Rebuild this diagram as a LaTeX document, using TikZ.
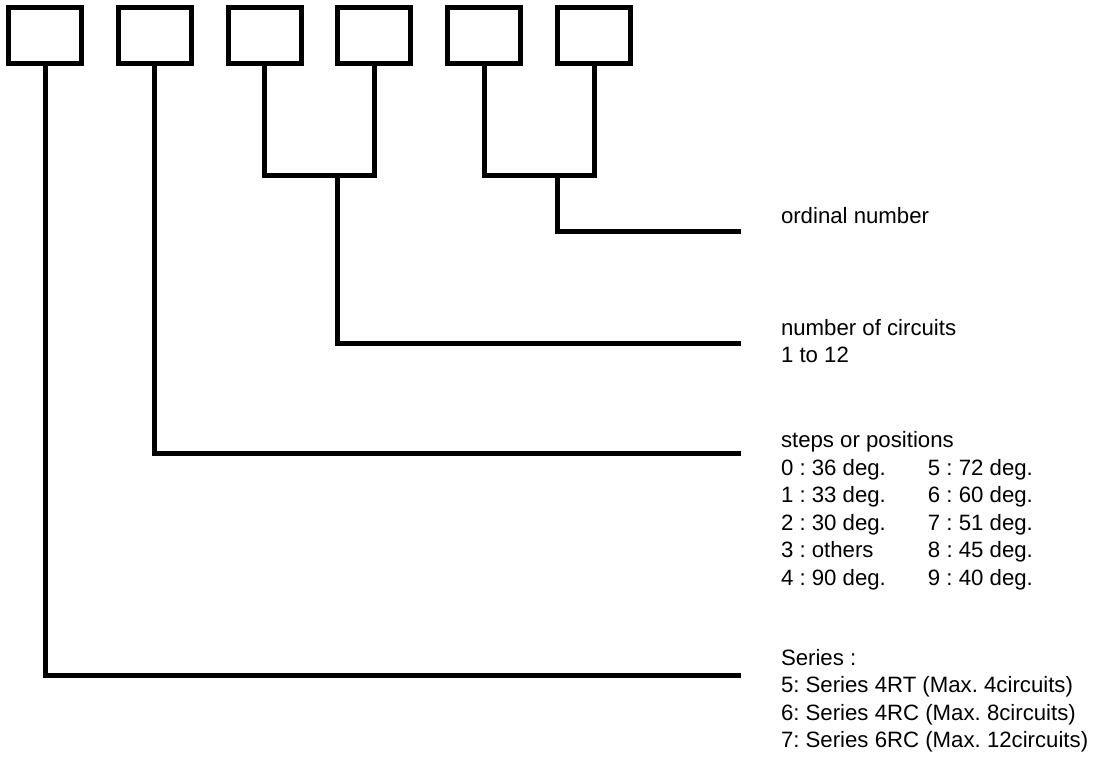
\documentclass[tikz,border=0pt]{standalone}
\usepackage{fontspec}
\setmainfont{Liberation Sans}
\frenchspacing
\begin{document}
\begin{tikzpicture}[x=1pt,y=-1pt,
  digit/.style={draw,line width=5pt,minimum width=73pt,minimum height=56pt,inner sep=0pt,outer sep=0pt},
  lead/.style={line width=5pt},
  label/.style={anchor=base west,inner sep=0pt,outer sep=0pt,font=\frenchspacing\fontsize{22.2}{27.6}\selectfont}]
\useasboundingbox (0,0) rectangle (1094,756);
\node[digit] (b1) at (45,35.5) {};
\node[digit] (b2) at (154.8,35.5) {};
\node[digit] (b3) at (264.6,35.5) {};
\node[digit] (b4) at (374.4,35.5) {};
\node[digit] (b5) at (484.2,35.5) {};
\node[digit] (b6) at (594,35.5) {};
\coordinate (c34) at (319,175.5);
\coordinate (d34) at (337.5,175.5);
\coordinate (c56) at (539,175.5);
\coordinate (d56) at (557.5,175.5);
\coordinate (e6) at (741,231);
\coordinate (e4) at (741,343);
\coordinate (e2) at (741,453.5);
\coordinate (e1) at (741,675);
\draw[lead] (b3.south) |- (c34) -| (b4.south);
\draw[lead] (b5.south) |- (c56) -| (b6.south);
\draw[lead] (d56) |- (e6);
\draw[lead] (d34) |- (e4);
\draw[lead] (b2.south) |- (e2);
\draw[lead] (b1.south) |- (e1);
\node[label] (t1) at (781,223) {ordinal number};
\node[label] (t2) at (781,335) {\begin{tabular}[t]{@{}l@{}}number of circuits\\1 to 12\end{tabular}};
\node[label] (t3) at (781,447.5) {\begin{tabular}[t]{@{}l@{}}steps or positions\\
\makebox[147pt][l]{0 : 36 deg.}5 : 72 deg.\\
\makebox[147pt][l]{1 : 33 deg.}6 : 60 deg.\\
\makebox[147pt][l]{2 : 30 deg.}7 : 51 deg.\\
\makebox[147pt][l]{3 : others}8 : 45 deg.\\
\makebox[147pt][l]{4 : 90 deg.}9 : 40 deg.\end{tabular}};
\node[label] (t4) at (781,665) {\begin{tabular}[t]{@{}l@{}}Series :\\
5: Series 4RT (Max. 4circuits)\\
6: Series 4RC (Max. 8circuits)\\
7: Series 6RC (Max. 12circuits)\end{tabular}};
\end{tikzpicture}
\end{document}
